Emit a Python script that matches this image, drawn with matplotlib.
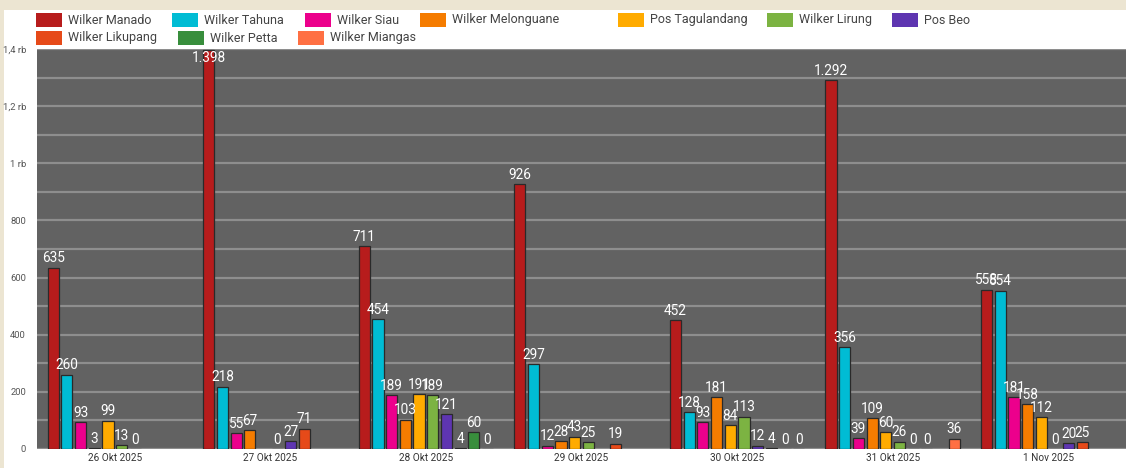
import numpy as np
import matplotlib
matplotlib.use('Agg')
import matplotlib.pyplot as plt
from matplotlib.patches import Rectangle

plt.rcParams['font.family'] = ['Roboto', 'DejaVu Sans']

# Data
tanggal = ['26 Okt 2025', '27 Okt 2025', '28 Okt 2025', '29 Okt 2025',
           '30 Okt 2025', '31 Okt 2025', '1 Nov 2025']
nan = np.nan
wilker_manado = [635, 1398, 711, 926, 452, 1292, 558]
wilker_tahuna = [260, 218, 454, 297, 128, 356, 554]
wilker_siau = [93, 55, 189, 12, 93, 39, 181]
wilker_melonguane = [3, 67, 103, 28, 181, 109, 158]
pos_tagulandang = [99, nan, 191, 43, 84, 60, 112]
wilker_lirung = [13, 0, 189, 25, 113, 26, 0]
pos_beo = [0, 27, 121, nan, 12, 0, 20]
wilker_likupang = [nan, 71, 4, 19, 4, 0, 25]
wilker_petta = [nan, nan, 60, nan, 0, nan, nan]
wilker_miangas = [nan, nan, 0, nan, 0, 36, nan]

namen = ['Wilker Manado', 'Wilker Tahuna', 'Wilker Siau', 'Wilker Melonguane',
         'Pos Tagulandang', 'Wilker Lirung', 'Pos Beo', 'Wilker Likupang',
         'Wilker Petta', 'Wilker Miangas']
reihen = [wilker_manado, wilker_tahuna, wilker_siau, wilker_melonguane,
          pos_tagulandang, wilker_lirung, pos_beo, wilker_likupang,
          wilker_petta, wilker_miangas]
farben = ['#b71c1c', '#00bcd4', '#ec008c', '#f57c00', '#ffab00',
          '#7cb342', '#5e35b1', '#e64a19', '#388e3c', '#ff7043']


def fmt_zahl(v):
    return f'{int(v):,}'.replace(',', '.')


def fmt_achse(v, pos):
    if v >= 1000:
        s = f'{v / 1000:g}'.replace('.', ',')
        return s + ' rb'
    return f'{int(v)}'


fig = plt.figure(figsize=(11.26, 4.68), dpi=100, facecolor='#ece5d2')
fig.patches.append(Rectangle((4 / 1126, 0), 1, 458 / 468, transform=fig.transFigure,
                             facecolor='white', edgecolor='none', zorder=-5))

ax = fig.add_axes([37 / 1126, 19 / 468, 1089 / 1126, 400 / 468])
ax.set_facecolor('#626262')

n = len(reihen)
slot = 0.088
breite = 0.072
x = np.arange(len(tanggal))
y_max = 1400

for k, (werte, farbe) in enumerate(zip(reihen, farben)):
    werte = np.array(werte, dtype=float)
    pos = x + (k - (n - 1) / 2) * slot
    ok = ~np.isnan(werte)
    ax.bar(pos[ok], werte[ok], width=breite, color=farbe, edgecolor='#2a2a2a',
           linewidth=0.9, zorder=3)
    for px, v in zip(pos[ok], werte[ok]):
        if v + 60 > y_max:
            ax.text(px, y_max - 8, fmt_zahl(v), ha='center', va='top', color='white',
                    fontsize=9.8, zorder=4)
        else:
            ax.text(px, v + 8, fmt_zahl(v), ha='center', va='bottom', color='white',
                    fontsize=9.8, zorder=4)

ax.set_xlim(-0.5, len(tanggal) - 0.5)
ax.set_ylim(0, y_max)
ax.set_yticks(np.arange(0, 1401, 200))
ax.set_yticks(np.arange(100, 1400, 200), minor=True)
ax.yaxis.set_major_formatter(matplotlib.ticker.FuncFormatter(fmt_achse))
ax.grid(axis='y', which='both', color='#8e8e8e', linewidth=1.6, zorder=1)
ax.set_axisbelow(True)
ax.set_xticks(x)
ax.set_xticklabels(tanggal, fontsize=7.2, color='#333333')
ax.tick_params(axis='y', which='both', length=0, labelsize=6.8, labelcolor='#555555', pad=8)
ax.tick_params(axis='x', length=0, pad=3)
for s in ax.spines.values():
    s.set_visible(False)

# Legende
leg_pos = [(36, 20), (172, 20), (305, 20), (420, 20), (618, 20), (767, 20), (892, 20),
           (36, 38), (178, 38), (298, 38)]
for (lx, ly), name, farbe in zip(leg_pos, namen, farben):
    fig.patches.append(Rectangle((lx / 1126, 1 - (ly + 6.5) / 468), 26 / 1126, 13 / 468,
                                 transform=fig.transFigure, facecolor=farbe,
                                 edgecolor='none', zorder=2))
    fig.text((lx + 32) / 1126, 1 - ly / 468, name, fontsize=9, color='#444444',
             va='center', ha='left')

fig.savefig('out.png', dpi=100, facecolor=fig.get_facecolor())
